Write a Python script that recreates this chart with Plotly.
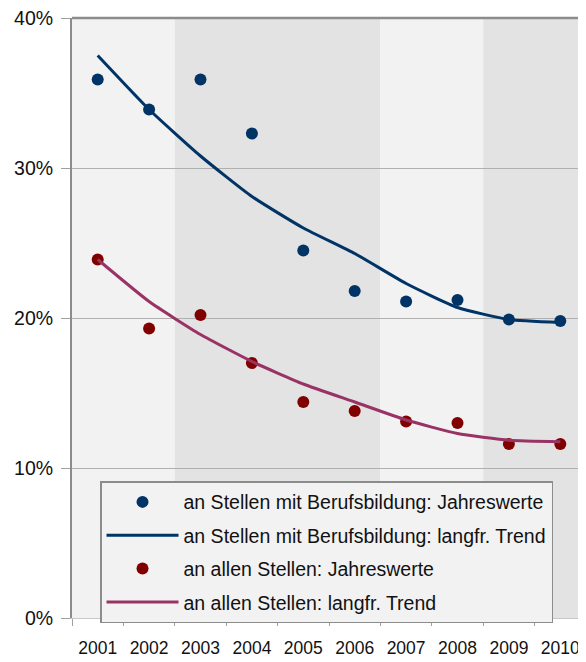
import plotly.graph_objects as go

years = ["2001", "2002", "2003", "2004", "2005", "2006", "2007", "2008", "2009", "2010"]
berufs_jahr = [35.9, 33.9, 35.9, 32.3, 24.5, 21.8, 21.1, 21.2, 19.9, 19.8]
berufs_trend = [37.5, 33.9, 30.8, 28.1, 26.0, 24.3, 22.3, 20.7, 19.9, 19.7]
alle_jahr = [23.9, 19.3, 20.2, 17.0, 14.4, 13.8, 13.1, 13.0, 11.6, 11.6]
alle_trend = [23.9, 21.1, 18.9, 17.1, 15.6, 14.4, 13.2, 12.3, 11.85, 11.75]
y_ticks = [0, 10, 20, 30, 40]
y_tick_labels = ["0%", "10%", "20%", "30%", "40%"]

REG = "Liberation Sans, Arial, sans-serif"

fig = go.Figure()
fig.add_trace(go.Scatter(x=years, y=berufs_jahr, mode="markers", name="an Stellen mit Berufsbildung: Jahreswerte",
                         marker=dict(color="#003366", size=12), legendgroup="a"))
fig.add_trace(go.Scatter(x=years, y=berufs_trend, mode="lines", name="an Stellen mit Berufsbildung: langfr. Trend",
                         line=dict(color="#003366", width=3, shape="spline", smoothing=0.5), legendgroup="b"))
fig.add_trace(go.Scatter(x=years, y=alle_jahr, mode="markers", name="an allen Stellen: Jahreswerte",
                         marker=dict(color="#800000", size=12), legendgroup="c"))
fig.add_trace(go.Scatter(x=years, y=alle_trend, mode="lines", name="an allen Stellen: langfr. Trend",
                         line=dict(color="#993366", width=3, shape="spline", smoothing=0.5), legendgroup="d"))

bands = [(-0.5, 1.5, "#f2f2f2"), (1.5, 5.5, "#e3e3e3"), (5.5, 7.5, "#f2f2f2"), (7.5, 9.5, "#e3e3e3")]
shapes = []
for x0, x1, c in bands:
    shapes.append(dict(type="rect", xref="x", yref="paper", x0=x0, x1=x1, y0=0, y1=1,
                       fillcolor=c, line=dict(width=0), layer="below"))
shapes.append(dict(type="line", xref="paper", yref="paper", x0=0, x1=1, y0=1, y1=1,
                   line=dict(color="#8c8c8c", width=2.5)))

fig.update_layout(
    width=578, height=654,
    margin=dict(l=64, r=0, t=10, b=44),
    paper_bgcolor="white", plot_bgcolor="white",
    shapes=shapes,
    showlegend=True,
    legend=dict(x=0.0545, y=0.228, xanchor="left", yanchor="top",
                bgcolor="#f2f2f2", bordercolor="#8c8c8c", borderwidth=1.5,
                font=dict(family=REG, size=19.5, color="#111111"),
                tracegroupgap=5, itemwidth=72),
    xaxis=dict(type="category", range=[-0.5, 9.5], tickson="boundaries", ticks="outside", ticklen=7,
               tickcolor="#a0a0a0", showgrid=False, showline=True, linecolor="#c8c8c8", linewidth=1,
               tickangle=0, automargin=False, ticklabelstandoff=14, ticklabeloverflow="allow",
               tickfont=dict(family=REG, size=17.5, color="#111111"), fixedrange=True),
    yaxis=dict(range=[0, 40], tickvals=y_ticks, ticktext=y_tick_labels, ticks="outside", ticklen=9,
               tickcolor="#a0a0a0", showgrid=True, gridcolor="#b0b0b0", gridwidth=1,
               showline=True, linecolor="#8c8c8c", linewidth=2, zeroline=False, automargin=False,
               ticklabeloverflow="allow",
               tickfont=dict(family=REG, size=19.5, color="#111111"), ticklabelstandoff=4),
)

fig.write_html("out.html")
